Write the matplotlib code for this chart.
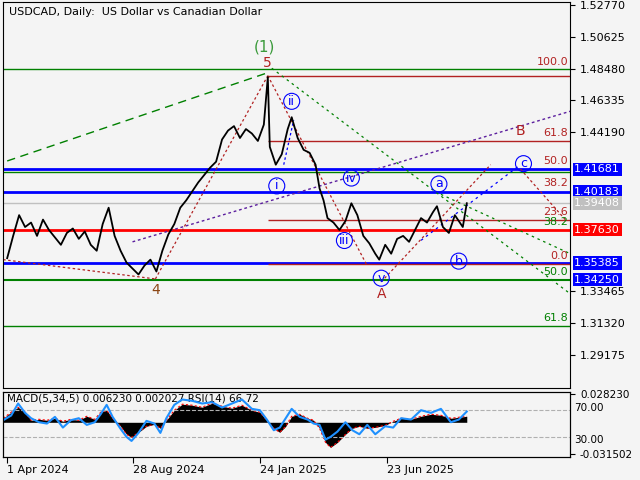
import numpy as np
import matplotlib.pyplot as plt

# price path (x in chart bars/pixels, price)
px = [4, 10, 16, 22, 28, 34, 40, 46, 52, 58, 64, 70, 76, 82, 88, 94, 100, 106, 112, 118,
      124, 130, 136, 142, 148, 154, 160, 166, 172, 178, 184, 190, 196, 202, 208, 214, 220,
      226, 232, 238, 244, 250, 256, 262, 266, 268, 274, 280, 286, 290, 296, 302, 308, 314,
      318, 322, 326, 332, 338, 344, 350, 356, 362, 368, 374, 378, 384, 390, 396, 402, 408,
      414, 420, 426, 432, 436, 442, 448, 454, 458, 462, 466]
close = [1.357, 1.372, 1.386, 1.378, 1.381, 1.372, 1.383, 1.376, 1.371, 1.366, 1.374, 1.377,
         1.370, 1.375, 1.366, 1.362, 1.380, 1.391, 1.372, 1.362, 1.354, 1.350, 1.346, 1.352,
         1.356, 1.348, 1.362, 1.373, 1.380, 1.391, 1.396, 1.402, 1.408, 1.413, 1.418, 1.422,
         1.437, 1.443, 1.446, 1.438, 1.444, 1.441, 1.436, 1.447, 1.479, 1.432, 1.420, 1.427,
         1.444, 1.452, 1.438, 1.430, 1.428, 1.420, 1.404, 1.396, 1.384, 1.381, 1.376, 1.382,
         1.394, 1.386, 1.372, 1.367, 1.360, 1.356, 1.366, 1.360, 1.370, 1.372, 1.368, 1.376,
         1.384, 1.381, 1.388, 1.392, 1.378, 1.374, 1.386, 1.382, 1.378, 1.394]

mx = [0, 8, 15, 22, 28, 36, 44, 52, 60, 68, 76, 84, 92, 98, 104, 110, 118, 124, 129, 136,
      144, 152, 158, 164, 172, 180, 190, 200, 210, 220, 230, 240, 250, 258, 265, 272, 278,
      284, 290, 298, 306, 312, 318, 324, 329, 336, 344, 351, 358, 366, 374, 384, 392, 400,
      410, 420, 430, 440, 450, 458, 466]
macd = [0.004, 0.010, 0.015, 0.010, 0.002, 0.003, 0.002, 0.004, 0.001, 0.003, 0.002, 0.006,
        0.003, 0.010, 0.012, 0.004, -0.004, -0.012, -0.015, -0.010, -0.004, -0.002, -0.006,
        0.002, 0.012, 0.018, 0.017, 0.015, 0.019, 0.016, 0.014, 0.017, 0.012, 0.010, 0.002,
        -0.006, -0.010, -0.004, 0.006, 0.008, 0.004, 0.002, -0.006, -0.020, -0.025, -0.020,
        -0.012, -0.006, -0.004, -0.006, -0.005, -0.003, 0.001, 0.004, 0.003, 0.006, 0.008,
        0.007, 0.004, 0.005, 0.006]
rsi = [55, 62, 80, 66, 58, 52, 50, 60, 44, 55, 58, 48, 52, 64, 78, 60, 42, 30, 24, 36, 54,
       50, 36, 58, 78, 86, 84, 80, 82, 74, 80, 86, 72, 70, 56, 40, 44, 58, 72, 60, 56, 50,
       48, 26, 30, 38, 52, 40, 34, 48, 34, 46, 44, 58, 56, 70, 66, 72, 52, 56, 68]

levels_box = [1.41681, 1.40183, 1.39408, 1.37630, 1.35385, 1.34250]
box_colors = ['#0000ff', '#0000ff', '#c0c0c0', '#ff0000', '#0000ff', '#0000ff']
yticks = [1.52770, 1.50625, 1.48480, 1.46335, 1.44190, 1.33465, 1.31320, 1.29175]
date_pos = [4, 130, 258, 386]
date_labels = ['1 Apr 2024', '28 Aug 2024', '24 Jan 2025', '23 Jun 2025']

bg = '#f4f4f4'
fig = plt.figure(figsize=(6.4, 4.8), dpi=100, facecolor=bg)
ax = fig.add_axes([0.005, 0.192, 0.886, 0.804], facecolor=bg)
ax.set_xlim(0, 570)
ax.set_ylim(1.2696, 1.5297)

# horizontal levels
ax.axhline(1.4848, color='green', lw=1)
ax.hlines(1.4800, 266, 570, color='#b22222', lw=1)
ax.hlines(1.4359, 266, 570, color='#b22222', lw=1)
ax.axhline(1.41681, color='#0000ff', lw=2)
ax.axhline(1.4148, color='green', lw=1)
ax.axhline(1.40183, color='#0000ff', lw=2)
ax.axhline(1.39408, color='#c0c0c0', lw=1)
ax.hlines(1.3830, 266, 570, color='#b22222', lw=1)
ax.axhline(1.37630, color='#ff0000', lw=2)
ax.axhline(1.35385, color='#0000ff', lw=2)
ax.hlines(1.3530, 266, 570, color='#b22222', lw=1)
ax.axhline(1.34250, color='green', lw=1.5)
ax.axhline(1.3110, color='green', lw=1)

# trend / channel lines
ax.plot([4, 266], [1.4225, 1.4820], color='green', ls=(0, (6, 4)), lw=1)
ax.plot([270, 570], [1.4850, 1.3330], color='green', ls=(0, (2, 3)), lw=0.9)
ax.plot([440, 570], [1.4000, 1.3600], color='green', ls=(0, (2, 3)), lw=0.9)
ax.plot([130, 570], [1.3680, 1.4560], color='#5b1e9e', ls=(0, (2, 2)), lw=1)
ax.plot([0, 153], [1.3560, 1.3430], color='#b22222', ls=(0, (2, 2)), lw=0.9)
ax.plot([153, 266], [1.3430, 1.4800], color='#b22222', ls=(0, (2, 2)), lw=0.9)
ax.plot([266, 365], [1.4800, 1.3530], color='#b22222', ls=(0, (2, 2)), lw=0.9)
ax.plot([380, 490], [1.3410, 1.4200], color='#b22222', ls=(0, (2, 2)), lw=0.9)
ax.plot([520, 565], [1.4170, 1.3830], color='#b22222', ls=(0, (2, 2)), lw=0.9)
ax.plot([420, 520], [1.3690, 1.4200], color='#0000ff', ls=(0, (2, 3)), lw=0.9)
ax.plot([282, 292], [1.4200, 1.4500], color='#0000ff', ls=(0, (2, 2)), lw=0.9)

ax.plot(px, close, color='black', lw=1.3)

# fib labels
fib = [(1.4856, '100.0', '#b22222'), (1.4380, '61.8', '#b22222'), (1.4190, '50.0', '#b22222'),
       (1.4045, '38.2', '#b22222'), (1.3850, '23.6', '#b22222'), (1.3780, '38.2', 'green'),
       (1.3550, '0.0', '#b22222'), (1.3442, '50.0', 'green'), (1.3132, '61.8', 'green')]
for y, t, c in fib:
    ax.text(568, y, t, color=c, fontsize=8, ha='right', va='bottom')

# wave labels
ax.text(263, 1.4960, '(1)', color='#3a9a3a', fontsize=11, ha='center')
ax.text(265, 1.4860, '5', color='#b22222', fontsize=10, ha='center')
ax.text(153, 1.3330, '4', color='#8b4513', fontsize=10, ha='center')
ax.text(380, 1.3300, 'A', color='#b22222', fontsize=10, ha='center')
ax.text(520, 1.4400, 'B', color='#b22222', fontsize=10, ha='center')
circ = dict(boxstyle='circle,pad=0.12', fc='none', ec='#0000ff', lw=0.8)
for x, y, t in [(275, 1.4057, 'i'), (290, 1.4627, 'ii'), (343, 1.3689, 'iii'), (350, 1.4110, 'iv'),
                (380, 1.3435, 'v'), (438, 1.4070, 'a'), (458, 1.3550, 'b'), (523, 1.4207, 'c')]:
    ax.text(x, y, t, color='#0000ff', fontsize=9, ha='center', va='center', bbox=circ)

ax.text(6, 1.5230, 'USDCAD, Daily:  US Dollar vs Canadian Dollar', fontsize=8, va='center')

ax.yaxis.tick_right()
ax.set_yticks(yticks)
ax.set_yticklabels(['%.5f' % v for v in yticks], fontsize=8)
ax.set_xticks([])
for v, c in zip(levels_box, box_colors):
    ax.text(574, v, '%.5f' % v, color='white', fontsize=8, va='center', ha='left', clip_on=False,
            bbox=dict(boxstyle='square,pad=0.15', fc=c, ec='none'))

# MACD / RSI panel
ax2 = fig.add_axes([0.005, 0.048, 0.886, 0.135], facecolor=bg)
ax2.set_xlim(0, 570)
ax2.set_ylim(-0.0345, 0.0300)
ax2.fill_between(mx, macd, 0, color='black', lw=0)
ax2.plot(mx, macd, color='red', ls=(0, (2, 2)), lw=0.8)
ax3 = ax2.twinx()
ax3.set_ylim(0, 97)
ax3.axhline(70, color='#b0b0b0', ls='--', lw=0.8)
ax3.axhline(30, color='#b0b0b0', ls='--', lw=0.8)
ax3.plot(mx, rsi, color='#1e90ff', lw=1.5)
ax3.set_yticks([])
ax2.yaxis.tick_right()
ax2.set_yticks([0.028230, -0.031502])
ax2.set_yticklabels(['0.028230', '-0.031502'], fontsize=7.5)
ax3.text(574, 73, '70.00', fontsize=7.5, va='center', clip_on=False)
ax3.text(574, 26, '30.00', fontsize=7.5, va='center', clip_on=False)
ax2.text(4, 0.0290, 'MACD(5,34,5) 0.006230 0.002027 RSI(14) 66.72', fontsize=7.5, va='top')
ax2.set_xticks(date_pos)
ax2.set_xticklabels(date_labels, fontsize=8, ha='left')
ax2.tick_params(axis='x', length=4, pad=2)

fig.savefig('out.png', dpi=100, facecolor=bg)
